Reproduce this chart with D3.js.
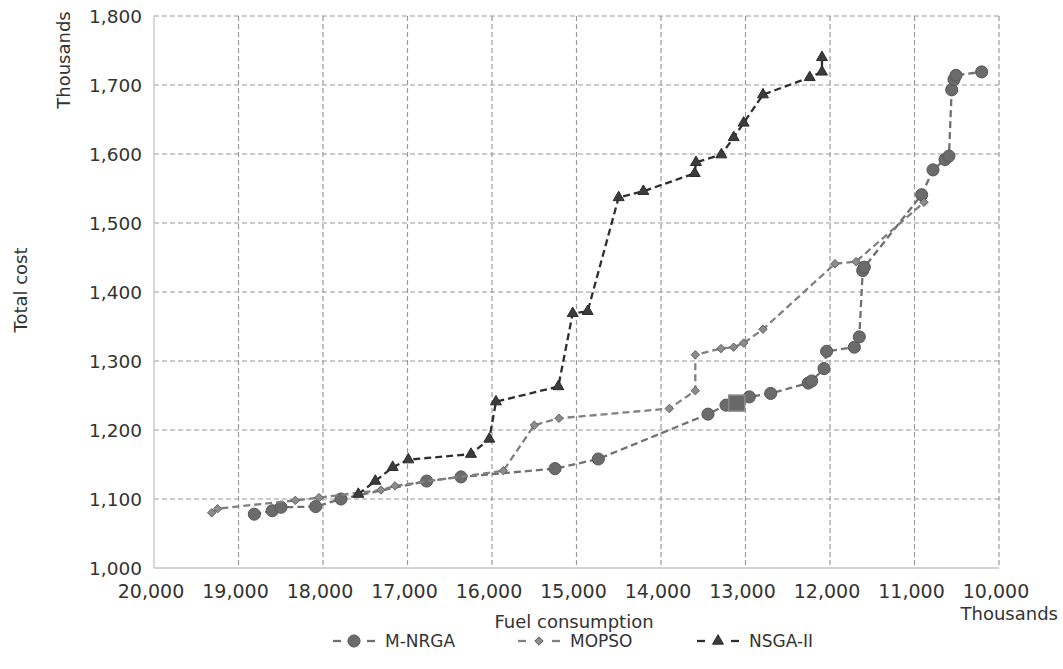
<!DOCTYPE html>
<html>
<head>
<meta charset="utf-8">
<script src="https://cdn.jsdelivr.net/npm/d3@7"></script>
<style>
  body { margin: 0; background: #fff; }
  text { font-family: "DejaVu Sans", sans-serif; fill: #333; }
</style>
</head>
<body>
<svg id="gfx" width="1063" height="669"></svg>
<script>
// values in thousands
var xTicks = [20000, 19000, 18000, 17000, 16000, 15000, 14000, 13000, 12000, 11000, 10000];
var yTicks = [1000, 1100, 1200, 1300, 1400, 1500, 1600, 1700, 1800];

var mnrgaFuel = [18813, 18600, 18497, 18087, 17787, 16773, 16367, 15254, 14742, 13444, 13231, 12955, 12702, 12257, 12217, 12071, 12040, 11712, 11653, 11613, 11594, 10915, 10781, 10639, 10592, 10560, 10533, 10509, 10205];
var mnrgaCost = [1078, 1083, 1088, 1089, 1100, 1126, 1132, 1144, 1158, 1223, 1236, 1248, 1253, 1268, 1271, 1289, 1314, 1320, 1335, 1431, 1436, 1541, 1577, 1592, 1597, 1693, 1708, 1714, 1719];

var mopsoFuel = [19317, 19246, 18328, 18047, 17314, 17148, 15866, 15499, 15207, 13902, 13594, 13594, 13290, 13140, 13022, 12793, 11941, 11692, 10888];
var mopsoCost = [1080, 1086, 1098, 1102, 1113, 1119, 1141, 1207, 1217, 1231, 1257, 1309, 1318, 1320, 1326, 1346, 1441, 1444, 1530];

var nsgaFuel = [17582, 17381, 17175, 16990, 16249, 16032, 15953, 15215, 15045, 14868, 14501, 14209, 13601, 13586, 13286, 13140, 13022, 12793, 12240, 12095, 12095];
var nsgaCost = [1107, 1126, 1146, 1157, 1165, 1187, 1241, 1263, 1369, 1372, 1537, 1546, 1572, 1588, 1599, 1624, 1645, 1686, 1711, 1719, 1740];

// selected solution
var chosenFuel = [13104];
var chosenCost = [1239];

var seriesNames = ["M-NRGA", "MOPSO", "NSGA-II"];

var chart = {};

function initialise() {
    chart.svg = d3.select("#gfx");
    chart.x = d3.scaleLinear().domain([20000, 10000]).range([154, 999]);
    chart.y = d3.scaleLinear().domain([1000, 1800]).range([568, 16]);

    chart.series = [
        { name: seriesNames[0], pts: zip(mnrgaFuel, mnrgaCost), line: "#707070", fill: "#6b6b6b", stroke: "#575757", shape: d3.symbolCircle, size: 115 },
        { name: seriesNames[1], pts: zip(mopsoFuel, mopsoCost), line: "#808080", fill: "#8c8c8c", stroke: "#606060", shape: d3.symbolDiamond2, size: 45 },
        { name: seriesNames[2], pts: zip(nsgaFuel, nsgaCost), line: "#2e2e2e", fill: "#3c3c3c", stroke: "#2a2a2a", shape: d3.symbolTriangle, size: 52 }
    ];

    drawGrid();
    drawSeries();
    drawLabels();
    drawLegend();
}

function zip(xs, ys) {
    return xs.map((v, i) => ({ fuel: v, cost: ys[i] }));
}

function drawGrid() {
    var svg = chart.svg, x = chart.x, y = chart.y;
    var g = svg.append("g").attr("class", "grid");

    g.selectAll("line.v").data(xTicks.slice(1)).enter()
        .append("line").attr("class", "v")
        .attr("x1", d => x(d)).attr("x2", d => x(d))
        .attr("y1", y(1800)).attr("y2", y(1000))
        .attr("stroke", "#9a9a9a").attr("stroke-width", 1.2).attr("stroke-dasharray", "5,3");

    g.selectAll("line.h").data(yTicks.slice(1)).enter()
        .append("line").attr("class", "h")
        .attr("x1", x(20000)).attr("x2", x(10000))
        .attr("y1", d => y(d)).attr("y2", d => y(d))
        .attr("stroke", "#9a9a9a").attr("stroke-width", 1.2).attr("stroke-dasharray", "5,3");

    // solid axis lines
    g.append("line").attr("x1", x(20000)).attr("x2", x(20000)).attr("y1", y(1800)).attr("y2", y(1000))
        .attr("stroke", "#c4c4c4").attr("stroke-width", 1.3);
    g.append("line").attr("x1", x(20000)).attr("x2", x(10000)).attr("y1", y(1000)).attr("y2", y(1000))
        .attr("stroke", "#c4c4c4").attr("stroke-width", 1.3);

    var fmt = d3.format(",");
    svg.append("g").selectAll("text").data(yTicks).enter()
        .append("text")
        .attr("x", 142).attr("y", d => y(d) + 7)
        .attr("text-anchor", "end").attr("font-size", 18.5)
        .text(d => fmt(d));

    svg.append("g").selectAll("text").data(xTicks).enter()
        .append("text")
        .attr("x", d => x(d) - 3).attr("y", 598)
        .attr("text-anchor", "middle").attr("font-size", 19)
        .text(d => fmt(d));
}

function drawSeries() {
    var x = chart.x, y = chart.y;
    var line = d3.line().x(d => x(d.fuel)).y(d => y(d.cost));
    var g = chart.svg.append("g").attr("class", "series");

    chart.series.forEach(function(s) {
        var sg = g.append("g");
        sg.append("path").datum(s.pts)
            .attr("d", line)
            .attr("fill", "none")
            .attr("stroke", s.line).attr("stroke-width", 2.3)
            .attr("stroke-dasharray", "7,4");
        sg.selectAll("path.mk").data(s.pts).enter()
            .append("path").attr("class", "mk")
            .attr("transform", d => "translate(" + x(d.fuel) + "," + y(d.cost) + ")")
            .attr("d", d3.symbol().type(s.shape).size(s.size))
            .attr("fill", s.fill).attr("stroke", s.stroke).attr("stroke-width", 1);
    });

    g.selectAll("rect.chosen").data(zip(chosenFuel, chosenCost)).enter()
        .append("rect").attr("class", "chosen")
        .attr("x", d => x(d.fuel) - 8).attr("y", d => y(d.cost) - 8)
        .attr("width", 16).attr("height", 16)
        .attr("fill", "#686868").attr("stroke", "#8a8a8a").attr("stroke-width", 1.5);
}

function drawLabels() {
    var svg = chart.svg;
    svg.append("text").attr("x", 574).attr("y", 628)
        .attr("text-anchor", "middle").attr("font-size", 18).text("Fuel consumption");
    svg.append("text").attr("x", 1058).attr("y", 620)
        .attr("text-anchor", "end").attr("font-size", 18).text("Thousands");
    svg.append("text").attr("transform", "translate(70,60) rotate(-90)")
        .attr("text-anchor", "middle").attr("font-size", 18).text("Thousands");
    svg.append("text").attr("transform", "translate(27,290) rotate(-90)")
        .attr("text-anchor", "middle").attr("font-size", 18).text("Total cost");
}

function drawLegend() {
    var centres = [354, 539, 718];
    var lg = chart.svg.append("g").attr("class", "legend");
    var items = lg.selectAll("g.item").data(chart.series).enter()
        .append("g").attr("class", "item")
        .attr("transform", (d, i) => "translate(" + centres[i] + ",641)");

    [-1, 1].forEach(function(side) {
        items.append("line")
            .attr("x1", side * 21).attr("x2", side * 13)
            .attr("stroke", d => d.line).attr("stroke-width", 2.3);
    });
    items.append("path")
        .attr("d", d => d3.symbol().type(d.shape).size(d.size)())
        .attr("fill", d => d.fill).attr("stroke", d => d.stroke);
    items.append("text")
        .attr("x", 31).attr("y", 6).attr("font-size", 17)
        .text(d => d.name);
}

initialise();
</script>
</body>
</html>
